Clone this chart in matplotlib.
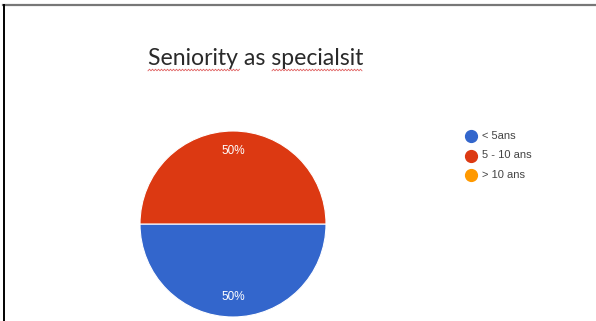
import numpy as np
import matplotlib.pyplot as plt
from matplotlib.lines import Line2D

# données du graphique
categories = ["< 5ans", "5 - 10 ans", "> 10 ans"]
valeurs = [1, 1, 0]
couleurs = ["#3366CC", "#DC3912", "#FF9900"]
titre = "Seniority as specialsit"

fig = plt.figure(figsize=(5.96, 3.21), dpi=100)
W, H = 596, 321

def fx(px):
    return px / W

def fy(py):
    return 1 - py / H

# cadre (haut gris, gauche noir)
fig.add_artist(Line2D([fx(3), 1], [fy(5), fy(5)], color="#777777", lw=1.6))
fig.add_artist(Line2D([fx(4), fx(4)], [fy(5), 0], color="black", lw=1.4))

# titre
fig.text(fx(148), fy(65), titre, fontsize=16.6, family="Lato",
         color="#2a2a2a", ha="left", va="baseline")

# soulignement rouge du correcteur
def vague(x0, x1, y):
    xs = np.arange(x0, x1 + 0.01, 1.5)
    ys = y + 0.8 * np.where(np.arange(len(xs)) % 2 == 0, 1, -1)
    fig.add_artist(Line2D(fx(xs), fy(ys), color="#E06060", lw=0.6))

vague(148, 240, 70)
vague(272, 362, 70)

# camembert
cx, cy, r = 233, 224, 93
ax = fig.add_axes([fx(cx - r), fy(cy + r), 2 * r / W, 2 * r / H])
nz = [i for i, v in enumerate(valeurs) if v > 0]
wedges, textes, auto = ax.pie([valeurs[i] for i in nz],
                              colors=[couleurs[i] for i in nz],
                              startangle=180, counterclock=True,
                              autopct="%1.0f%%", pctdistance=0.79,
                              wedgeprops=dict(edgecolor="white", linewidth=0.8),
                              textprops=dict(color="white", fontsize=8.5,
                                             family="Liberation Sans"))
ax.set_xlim(-1, 1)
ax.set_ylim(-1, 1)
ax.axis("off")

# légende
for k, (cat, col) in enumerate(zip(categories, couleurs)):
    y = 136 + k * 19.5
    fig.add_artist(Line2D([fx(471)], [fy(y)], marker="o", markersize=8.5,
                          color=col, lw=0))
    fig.text(fx(482), fy(y), cat, fontsize=8, family="Liberation Sans",
             color="#444444", ha="left", va="center")

fig.savefig("out.png", dpi=100)
